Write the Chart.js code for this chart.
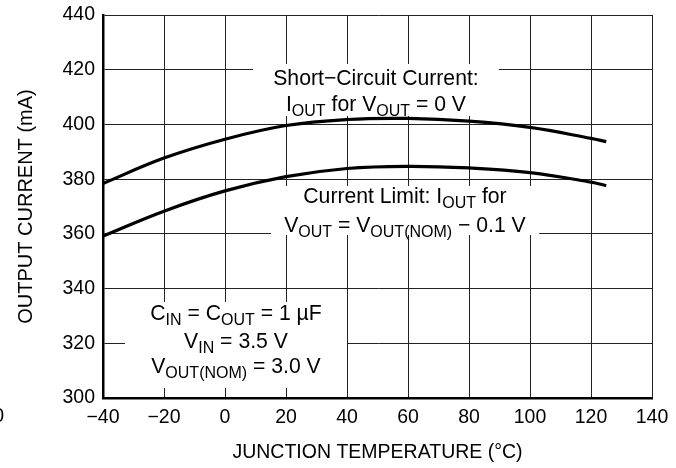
<!DOCTYPE html>
<html>
<head>
<meta charset="utf-8">
<script src="https://cdn.jsdelivr.net/npm/chart.js@4/dist/chart.umd.min.js"></script>
<style>
  html, body { margin: 0; padding: 0; background: #fff; }
  #wrap { width: 676px; height: 468px; position: relative; }
</style>
</head>
<body>
<div id="wrap"><canvas id="c"></canvas></div>
<script>
// ---- data ----
const temperatures = [-40, -20, 0, 20, 40, 60, 80, 100, 120, 125];
const shortCircuitCurrent = [378.4, 387.7, 394.6, 399.6, 401.8, 402.2, 401.2, 398.9, 394.9, 393.7];
const currentLimit = [359.2, 368.3, 375.7, 380.9, 383.9, 384.7, 384.1, 382.4, 378.9, 377.6];
const xTicks = [-40, -20, 0, 20, 40, 60, 80, 100, 120, 140];
const yTicks = [300, 320, 340, 360, 380, 400, 420, 440];
const xTitle = 'JUNCTION TEMPERATURE (°C)';
const yTitle = 'OUTPUT CURRENT (mA)';
// annotation texts: arrays of [text, isSubscript]
const noteShort = [
  [['Short\u2212Circuit Current:', false]],
  [['I', false], ['OUT', true], [' for V', false], ['OUT', true], [' = 0 V', false]]
];
const noteLimit = [
  [['Current Limit: I', false], ['OUT', true], [' for', false]],
  [['V', false], ['OUT', true], [' = V', false], ['OUT(NOM)', true], [' \u2212 0.1 V', false]]
];
const noteCond = [
  [['C', false], ['IN', true], [' = C', false], ['OUT', true], [' = 1 \u00B5F', false]],
  [['V', false], ['IN', true], [' = 3.5 V', false]],
  [['V', false], ['OUT(NOM)', true], [' = 3.0 V', false]]
];

const FONT = '"Liberation Sans", Arial, Helvetica, sans-serif';
const MAIN = 19.5, NOTE = 21.2, SUB = 16;

function pts(xs, ys) { return xs.map((x, i) => ({ x: x, y: ys[i] })); }

function segWidth(ctx, segs) {
  let w = 0;
  for (const [t, sub] of segs) {
    ctx.font = (sub ? SUB : NOTE) + 'px ' + FONT;
    w += ctx.measureText(t).width;
  }
  return w;
}
function drawSegs(ctx, segs, cx, baseline) {
  let x = cx - segWidth(ctx, segs) / 2;
  ctx.textAlign = 'left';
  ctx.textBaseline = 'alphabetic';
  ctx.fillStyle = '#000';
  for (const [t, sub] of segs) {
    ctx.font = (sub ? SUB : NOTE) + 'px ' + FONT;
    ctx.fillText(t, x, baseline + (sub ? 5 : 0));
    x += ctx.measureText(t).width;
  }
}

const notesPlugin = {
  id: 'notes',
  beforeDatasetsDraw(chart) {
    const ctx = chart.ctx, xs = chart.scales.x, ys = chart.scales.y;
    const X = v => xs.getPixelForValue(v), Y = v => ys.getPixelForValue(v);
    const boxes = [
      { x0: 9.2, x1: 89.8, y0: 422.1, y1: 403.1, cx: 49.5, base: [414.4, 404.9], lines: noteShort },
      { x0: 15.1, x1: 103.0, y0: 377.5, y1: 359.6, cx: 59.0, base: [371.2, 360.8], lines: noteLimit },
      { x0: -32.8, x1: 40.0, y0: 335.1, y1: 303.7, cx: 3.6, base: [328.5, 318.2, 309.0], lines: noteCond }
    ];
    ctx.save();
    for (const b of boxes) {
      ctx.fillStyle = '#fff';
      ctx.fillRect(X(b.x0), Y(b.y0), X(b.x1) - X(b.x0), Y(b.y1) - Y(b.y0));
    }
    for (const b of boxes) {
      b.lines.forEach((segs, i) => drawSegs(ctx, segs, X(b.cx), Y(b.base[i])));
    }
    ctx.restore();
  },
  afterDraw(chart) {
    const ctx = chart.ctx;
    ctx.save();
    ctx.font = MAIN + 'px ' + FONT;
    ctx.fillStyle = '#000';
    ctx.textAlign = 'right';
    ctx.textBaseline = 'alphabetic';
    ctx.fillText('0', 4, 422);
    ctx.restore();
  }
};

const lineStyle = {
  borderColor: '#000', borderWidth: 3.2, pointRadius: 0, fill: false,
  tension: 0.4
};

new Chart(document.getElementById('c'), {
  type: 'line',
  data: {
    datasets: [
      Object.assign({ label: 'Short-Circuit Current', data: pts(temperatures, shortCircuitCurrent) }, lineStyle),
      Object.assign({ label: 'Current Limit', data: pts(temperatures, currentLimit) }, lineStyle)
    ]
  },
  options: {
    responsive: true,
    maintainAspectRatio: false,
    animation: false,
    devicePixelRatio: 1,
    layout: { padding: { top: 15, right: 24, left: 0, bottom: 0 } },
    plugins: { legend: { display: false }, tooltip: { enabled: false } },
    scales: {
      x: {
        type: 'linear', min: -40, max: 140,
        afterBuildTicks: s => { s.ticks = xTicks.map(v => ({ value: v })); },
        afterFit: s => { s.height = 70; s.paddingLeft = 0; s.paddingRight = 0; },
        grid: { color: '#222', lineWidth: 1, drawTicks: false },
        border: { color: '#000', width: 2.5 },
        ticks: {
          color: '#000', padding: 8, maxRotation: 0, autoSkip: false,
          font: { family: FONT, size: MAIN },
          callback: v => String(v).replace('-', '\u2212')
        },
        title: { display: true, text: xTitle, color: '#000', font: { family: FONT, size: MAIN }, padding: { top: 4, bottom: 4 } }
      },
      y: {
        type: 'linear', min: 300, max: 440,
        afterBuildTicks: s => { s.ticks = yTicks.map(v => ({ value: v })); },
        afterFit: s => { s.width = 103; s.paddingTop = 0; s.paddingBottom = 0; },
        grid: { color: '#222', lineWidth: 1, drawTicks: false },
        border: { color: '#000', width: 2.5 },
        ticks: { color: '#000', padding: 8, autoSkip: false, font: { family: FONT, size: MAIN } },
        title: { display: true, text: yTitle, color: '#000', font: { family: FONT, size: 20 }, padding: { top: 14, bottom: 14 } }
      }
    }
  },
  plugins: [notesPlugin]
});
</script>
</body>
</html>
